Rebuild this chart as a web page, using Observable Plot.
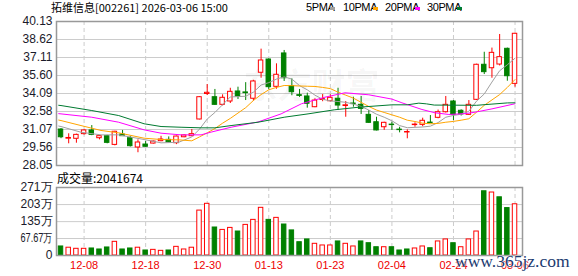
<!DOCTYPE html>
<html><head><meta charset="utf-8">
<script src="https://cdn.jsdelivr.net/npm/d3@7"></script>
<script src="https://cdn.jsdelivr.net/npm/@observablehq/plot@0.6"></script>
<style>
body{margin:0;background:#fff;}
#wrap{position:relative;width:578px;height:276px;overflow:hidden;background:#fff;font-family:"Noto Sans CJK SC",sans-serif;}
#wrap svg{position:absolute;left:0;}
.t{position:absolute;white-space:nowrap;color:#000;}
.sw{position:absolute;width:5px;height:3px;}
</style></head><body><div id="wrap"></div>
<script>
// ---- data ----
const titleText = "拓维信息[002261] 2026-03-06 15:00";
const legendNames = ["5PMA","10PMA","20PMA","30PMA"];
const volumeLabel = "成交量:2041674";
const dateTickIdx = [3, 11, 19, 27, 35, 43, 51, 59];
const dateLabels = ["12-08","12-18","12-30","01-13","01-23","02-04","02-24","03-06"];
const priceTicks = [28.05, 29.56, 31.07, 32.58, 34.09, 35.60, 37.11, 38.62, 40.13];
const volTicks = [0, 67.67, 135, 203, 271];
const volTickLabels = ["0", "67.67万", "135万", "203万", "271万"];

const open  = [31.07,30.30,30.29,30.68,30.99,30.34,30.51,29.78,30.65,30.34,
               29.56,29.81,29.89,30.09,30.20,29.92,30.42,30.51,31.91,34.05,
               33.78,33.14,33.42,34.26,34.18,33.65,35.83,36.94,34.65,37.45,
               34.70,33.95,33.84,32.94,33.55,33.44,33.65,33.04,33.25,33.14,
               32.30,31.68,31.26,31.48,31.06,30.82,31.44,31.46,31.65,32.05,
               32.52,33.42,32.64,32.30,33.56,36.50,36.21,36.52,37.84,34.90];
const high  = [31.15,30.71,30.68,31.05,31.40,30.55,30.58,30.92,30.99,30.50,
               30.20,30.06,30.10,30.50,30.45,30.52,30.62,31.07,33.82,34.84,
               34.43,33.98,34.53,34.62,35.00,35.20,37.81,37.00,36.58,37.70,
               35.32,34.43,34.12,33.65,34.00,33.98,34.53,33.42,33.78,33.84,
               32.66,32.10,31.68,31.68,31.26,31.04,31.63,32.02,32.24,32.70,
               33.84,33.50,32.72,33.50,36.55,37.55,37.90,39.04,37.90,39.15];
const low   = [30.30,29.87,29.92,30.60,30.55,30.20,29.87,29.70,30.48,29.60,
               29.12,29.58,29.85,30.05,29.97,29.80,30.38,30.47,31.88,33.92,
               33.10,33.05,33.25,33.59,33.50,33.45,35.37,34.40,34.45,35.10,
               33.90,33.76,32.86,32.90,33.40,33.40,32.66,32.10,32.94,32.33,
               31.58,30.95,31.00,30.99,30.79,30.29,31.26,31.30,31.58,31.97,
               32.45,31.82,32.20,32.25,33.50,35.68,35.37,36.40,35.12,34.62];
const close = [30.42,30.36,30.62,30.99,30.62,30.51,29.95,30.88,30.51,29.67,
               29.98,29.62,30.06,30.23,30.00,30.48,30.57,30.68,33.78,34.15,
               33.14,33.73,34.23,33.84,34.12,35.10,36.86,34.62,35.66,35.37,
               34.20,33.89,33.23,33.50,33.62,33.73,33.08,33.10,33.20,32.80,
               31.63,30.99,31.63,31.44,31.02,30.86,31.48,31.80,31.60,32.52,
               33.14,32.30,32.33,33.14,36.50,35.88,37.50,37.14,35.54,39.10];
// volume in 万 shares
const volume = [36,31,26.7,26.7,28,24,32,54.5,24,28,
                31,20,22.5,18.6,20,34.5,24,31,179,206,
                111.6,102,110,95.6,122,142,190,142,150,123.5,
                100,53,64,46.6,40,40,56,46.6,36,56,
                49,33,33,33,20,24,28,36,29,56,
                64,49,33,64,95.6,256,251,232,189,204.17];
// 1 = up (red), 0 = down (green), as coloured in the volume panel
const volUp = [0,1,1,1,0,0,0,1,0,0, 1,0,1,1,0,1,1,1,1,1,
               0,1,1,0,1,1,1,0,1,0, 0,0,0,1,1,1,0,1,1,0,
               0,0,1,0,0,0,1,1,0,1, 1,0,1,1,1,0,1,0,0,1];

// moving averages, read as (candle position, value)
const ma5Idx = [-0.3,0,2.6,5.2,7.5,10.8,13,15.3,17,18,19,20,21,22,24,25,26,27,28,29,30,31,32,33,34,35,36,37,38,39,40,41,42,43,44,45,46,47,48,49,50,51,52,53,54,55,56,57,58,59];
const ma5Val = [31.36,31.32,30.84,30.62,30.62,30.23,29.95,30.0,30.45,31.10,31.95,32.5,33.15,33.8,33.86,34.2,34.8,35.0,35.3,35.48,35.3,34.75,34.4,33.95,33.6,33.47,33.42,33.35,33.2,33.0,32.7,32.35,32.1,31.8,31.4,31.22,31.25,31.28,31.35,31.65,32.1,32.25,32.35,32.6,33.45,34.05,35.05,36.0,36.5,37.05];
const ma10Idx = [-0.3,0,2.6,5.2,7.5,10.8,13,15.3,17,18,19,20,21,22,23,24,25,26,27,28,29,30,31,32,33,34,35,36,37,38,39,40,41,42,43,44,45,46,47,48,49,50,51,52,53,54,55,56,57,58,59];
const ma10Val = [31.86,31.82,31.4,30.99,30.79,30.34,30.23,30.2,30.12,30.45,30.79,31.15,31.6,32.0,32.45,32.9,33.5,34.0,34.4,34.6,34.76,34.75,34.72,34.7,34.68,34.6,34.5,34.2,33.95,33.7,33.35,33.0,32.7,32.5,32.3,32.1,31.85,31.74,31.6,31.55,31.58,31.68,31.75,31.85,31.97,32.52,33.1,33.55,34.0,34.6,35.26];
const ma20Idx = [-0.3,0,4,7.5,10.8,13,15.6,17,18.2,19.5,22.1,25.6,28.6,31.25,34.3,36.9,40,43,44.3,46.9,48.6,50.4,52.5,53.8,56,59];
const ma20Val = [32.4,32.38,32.1,31.68,31.04,30.76,30.62,30.62,30.62,30.85,31.26,31.7,32.38,33.23,33.78,34.15,33.98,33.62,33.31,32.75,32.47,32.33,32.4,32.52,32.8,33.23];
const ma30Idx = [-0.3,0,4,7.5,10.8,13,15.6,18.2,20,22.1,25.6,29,32.1,35.5,38.7,43,45,46.5,47.5,48.5,54,56,58,59];
const ma30Val = [33.1,33.08,32.66,32.24,31.55,31.32,31.26,31.21,31.21,31.4,31.68,32.1,32.38,32.72,32.94,33.14,33.14,33.28,33.22,33.12,33.1,33.2,33.3,33.31];

// ---- styles ----
const RED = "#ff0000", GREEN = "#008000";
const maColors = ["#a0a0a0", "#ffa500", "#ff00ff", "#007a30"];
const xDomain = [-0.585, 59.97];
const half = 0.29;

const candles = d3.range(open.length).map(i => ({i, o: open[i], h: high[i], l: low[i], c: close[i]}));
const vols = volume.map((v, i) => ({i, v, up: volUp[i]}));
const mk = (idx, val) => idx.map((x, k) => ({x, y: val[k]}));
const maSeries = [mk(ma5Idx, ma5Val), mk(ma10Idx, ma10Val), mk(ma20Idx, ma20Val), mk(ma30Idx, ma30Val)];

const wrap = document.getElementById("wrap");
const axisFont = "Liberation Sans, Arial, sans-serif";

const price = Plot.plot({
  width: 578, height: 172,
  marginLeft: 56, marginRight: 56, marginTop: 21, marginBottom: 7,
  x: {type: "linear", domain: xDomain, axis: null, label: null},
  y: {domain: [28.05, 40.13], axis: null, label: null},
  style: {background: "transparent", overflow: "visible"},
  marks: [
    Plot.gridY(priceTicks, {stroke: "#cccccc", strokeOpacity: 1}),
    Plot.gridX(dateTickIdx, {stroke: "#cccccc", strokeOpacity: 1, strokeDasharray: "4,3"}),
    Plot.text(["东方财富"], {frameAnchor: "middle", dx: 22, dy: -6, fontSize: 34, fontWeight: "bold", fill: "#000", fillOpacity: 0.045, fontFamily: "Noto Sans CJK SC"}),
    Plot.axisY(priceTicks, {anchor: "left", label: null, tickSize: 0, tickPadding: 4, tickFormat: d => d.toFixed(2), fontSize: 12, fill: "#1a1a2a", fontFamily: axisFont}),
    Plot.ruleX(candles, {x: "i", y1: "l", y2: "h", stroke: d => d.c >= d.o ? RED : GREEN, strokeWidth: 1}),
    Plot.rect(candles, {x1: d => d.i - half, x2: d => d.i + half, y1: "o", y2: "c",
      fill: d => d.c >= d.o ? "#ffffff" : GREEN, stroke: d => d.c >= d.o ? RED : GREEN, strokeWidth: 1}),
    ...maSeries.map((s, k) => Plot.line(s, {x: "x", y: "y", stroke: maColors[k], strokeWidth: 1})),
    Plot.frame({stroke: "#999999", strokeWidth: 1.5})
  ]
});
price.style.top = "0px";
wrap.appendChild(price);

const volPlot = Plot.plot({
  width: 578, height: 111,
  marginLeft: 56, marginRight: 56, marginTop: 22, marginBottom: 21,
  x: {type: "linear", domain: xDomain, axis: null, label: null},
  y: {domain: [0, 271], axis: null, label: null},
  style: {background: "transparent", overflow: "visible"},
  marks: [
    Plot.gridY(volTicks, {stroke: "#cccccc", strokeOpacity: 1}),
    Plot.gridX(dateTickIdx, {stroke: "#cccccc", strokeOpacity: 1, strokeDasharray: "4,3"}),
    Plot.axisY(volTicks, {anchor: "left", label: null, tickSize: 0, tickPadding: 4, tickFormat: d => volTickLabels[volTicks.indexOf(d)], fontSize: 12, fill: "#1a1a2a", fontFamily: axisFont}),
    Plot.axisX(dateTickIdx, {anchor: "bottom", label: null, tickSize: 0, tickPadding: 6, tickFormat: d => dateLabels[dateTickIdx.indexOf(d)], fontSize: 11, fill: "#ee0000", fontFamily: axisFont}),
    Plot.rect(vols, {x1: d => d.i - half, x2: d => d.i + half, y1: 0, y2: "v",
      fill: d => d.up ? "#ffffff" : GREEN, stroke: d => d.up ? RED : GREEN, strokeWidth: 1}),
    Plot.frame({stroke: "#999999", strokeWidth: 1.5})
  ]
});
volPlot.style.top = "165px";
wrap.appendChild(volPlot);

// compress long y labels like a canvas maxWidth would
for (const svg of [price, volPlot]) {
  svg.querySelectorAll('g[aria-label="y-axis tick label"] text').forEach(t => {
    if (t.getComputedTextLength() > 32) {
      t.setAttribute("textLength", 32);
      t.setAttribute("lengthAdjust", "spacingAndGlyphs");
    }
  });
}

function addText(txt, left, top, size, color, family, extra) {
  const s = document.createElement("span");
  s.className = "t";
  s.textContent = txt;
  s.style.left = left + "px"; s.style.top = top + "px";
  s.style.fontSize = size + "px"; s.style.lineHeight = size + "px";
  s.style.color = color;
  if (family) s.style.fontFamily = family;
  if (extra) Object.assign(s.style, extra);
  wrap.appendChild(s);
  return s;
}
addText(titleText, 51, 2, 11, "#000");
const legendX = [306, 343, 385, 427];
const swatchX = [330, 373, 415, 457];
legendNames.forEach((n, k) => {
  addText(n, legendX[k], 2, 11, "#000", "Liberation Sans, Arial, sans-serif", {letterSpacing: "-0.4px"});
  const sw = document.createElement("div");
  sw.className = "sw";
  sw.style.left = swatchX[k] + "px"; sw.style.top = "7px";
  sw.style.background = maColors[k];
  wrap.appendChild(sw);
});
addText(volumeLabel, 57, 172, 12, "#000");
addText("www.365jz.com", 455, 253, 17.5, "#1b3a70", "Liberation Serif, serif", {textShadow: "0 0 2px #fff, 0 0 2px #fff"});
</script>
</body></html>
